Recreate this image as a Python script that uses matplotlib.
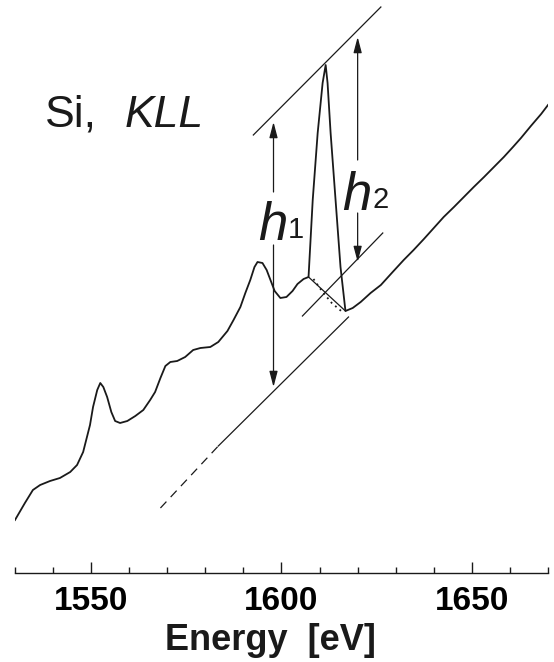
import matplotlib
matplotlib.use("Agg")
import matplotlib.pyplot as plt
from matplotlib.ticker import MultipleLocator

# Si KLL Auger spectrum (energy in eV, intensity in arbitrary units)
energy = [1530.0, 1532.6, 1534.7, 1536.6, 1539.2, 1541.8, 1544.5, 1546.3, 1547.9,
          1548.9, 1549.7, 1550.5, 1551.6, 1552.4, 1553.2, 1554.2, 1555.3, 1556.3,
          1557.6, 1559.5, 1561.6, 1563.7, 1565.5, 1566.8, 1568.2, 1569.5, 1570.8,
          1572.6, 1574.7, 1576.8, 1578.7, 1581.3, 1583.4, 1585.8, 1587.4, 1589.2,
          1590.5, 1591.8, 1592.9, 1593.7, 1595.0, 1596.1, 1597.1, 1598.2, 1599.7,
          1601.3, 1602.9, 1604.2, 1605.8, 1607.1, 1608.2, 1609.5, 1610.8, 1611.6,
          1612.1, 1612.9, 1614.2, 1615.5, 1616.8, 1618.7, 1620.8, 1623.4, 1626.1,
          1629.2, 1632.1, 1634.7, 1637.4, 1640.0, 1642.6, 1645.3, 1647.9, 1650.5,
          1653.2, 1655.8, 1658.4, 1660.8, 1662.9, 1665.5, 1668.2, 1670.0]
intensity = [5.3, 7.0, 8.3, 8.8, 9.2, 9.5, 10.1, 10.8, 12.1,
             13.6, 14.8, 16.6, 18.3, 19.0, 18.6, 17.6, 16.1, 15.2,
             15.0, 15.2, 15.7, 16.3, 17.3, 18.1, 19.5, 20.7, 21.1,
             21.2, 21.6, 22.3, 22.5, 22.6, 23.1, 24.2, 25.3, 26.6,
             28.0, 29.3, 30.6, 31.1, 31.0, 30.3, 29.3, 28.2, 27.5,
             27.6, 28.2, 28.9, 29.4, 29.6, 37.3, 44.0, 49.0, 50.8,
             49.0, 44.0, 37.3, 30.6, 26.2, 26.5, 27.1, 28.0, 28.8,
             30.1, 31.3, 32.3, 33.4, 34.5, 35.6, 36.6, 37.6, 38.6,
             39.6, 40.6, 41.6, 42.6, 43.5, 44.7, 45.9, 46.8]

# construction lines
top_line_e, top_line_i = [1592.6, 1626.1], [43.8, 56.6]
mid_line_e, mid_line_i = [1605.5, 1626.6], [25.7, 34.0]
base_line_e, base_line_i = [1583.4, 1617.6], [12.7, 25.6]
base_dash_e, base_dash_i = [1568.2, 1583.4], [6.5, 12.7]
bg_solid_e, bg_solid_i = [1607.1, 1616.8], [29.6, 26.2]
bg_dot_e = [1608.4, 1610.8, 1613.2, 1616.3]
bg_dot_i = [29.4, 28.1, 27.0, 26.0]

# height arrows: (energy, [tip_top, tail_top, tail_bottom, tip_bottom])
h1_e, h1_i = 1597.9, [45.1, 38.1, 32.8, 18.6]
h2_e, h2_i = 1620.0, [53.6, 41.3, 36.0, 31.1]

major_ticks = [1550, 1600, 1650]

ink = "#1a1a1a"
plt.rcParams["font.family"] = ["Liberation Sans", "DejaVu Sans"]

fig = plt.figure(figsize=(5.54, 6.62), dpi=100)
ax = fig.add_axes([15 / 554, 89 / 662, 533 / 554, 573 / 662])
ax.set_xlim(1530, 1670)
ax.set_ylim(0, 57.3)

ax.plot(energy, intensity, color=ink, lw=1.3, solid_joinstyle="round")

ax.plot(top_line_e, top_line_i, color=ink, lw=0.9)
ax.plot(mid_line_e, mid_line_i, color=ink, lw=0.9)
ax.plot(base_line_e, base_line_i, color=ink, lw=0.9)
ax.plot(base_dash_e, base_dash_i, color=ink, lw=0.9, linestyle=(0, (7, 5)))
ax.plot(bg_solid_e, bg_solid_i, color=ink, lw=0.9)
ax.plot(bg_dot_e, bg_dot_i, color=ink, lw=1.3, linestyle=(0, (1, 2.2)))

arrow = dict(arrowstyle="-|>,head_length=0.95,head_width=0.25", color=ink,
             lw=0.9, shrinkA=0, shrinkB=0, mutation_scale=10)
for e, (t1, a1, a2, t2) in [(h1_e, h1_i), (h2_e, h2_i)]:
    ax.annotate("", xy=(e, t1), xytext=(e, a1), arrowprops=arrow)
    ax.annotate("", xy=(e, t2), xytext=(e, a2), arrowprops=arrow)

ax.text(1593.8, 33.3, "h", fontsize=38, style="italic", color=ink)
ax.text(1601.7, 33.5, "1", fontsize=21, color=ink)
ax.text(1616.0, 36.3, "h", fontsize=38, style="italic", color=ink)
ax.text(1623.9, 36.5, "2", fontsize=21, color=ink)

ax.text(1537.9, 44.6, "Si,", fontsize=32, color=ink)
ax.text(1558.9, 44.6, "KLL", fontsize=32, style="italic", color=ink)

for s in ["top", "left", "right"]:
    ax.spines[s].set_visible(False)
ax.spines["bottom"].set_linewidth(1.0)
ax.spines["bottom"].set_color(ink)
ax.set_yticks([])
ax.set_xticks(major_ticks)
ax.xaxis.set_minor_locator(MultipleLocator(10))
ax.tick_params(axis="x", which="major", direction="in", length=8, width=1,
               color=ink, pad=9, labelsize=24)
ax.tick_params(axis="x", which="minor", direction="in", length=4.5, width=1, color=ink)
for lab in ax.get_xticklabels():
    lab.set_fontweight("bold")
ax.set_xlabel("Energy  [eV]", fontsize=26, fontweight="bold", color=ink)
ax.xaxis.set_label_coords(0.48, -0.088)
ax.patch.set_alpha(0)

fig.savefig("out.png", dpi=100)
